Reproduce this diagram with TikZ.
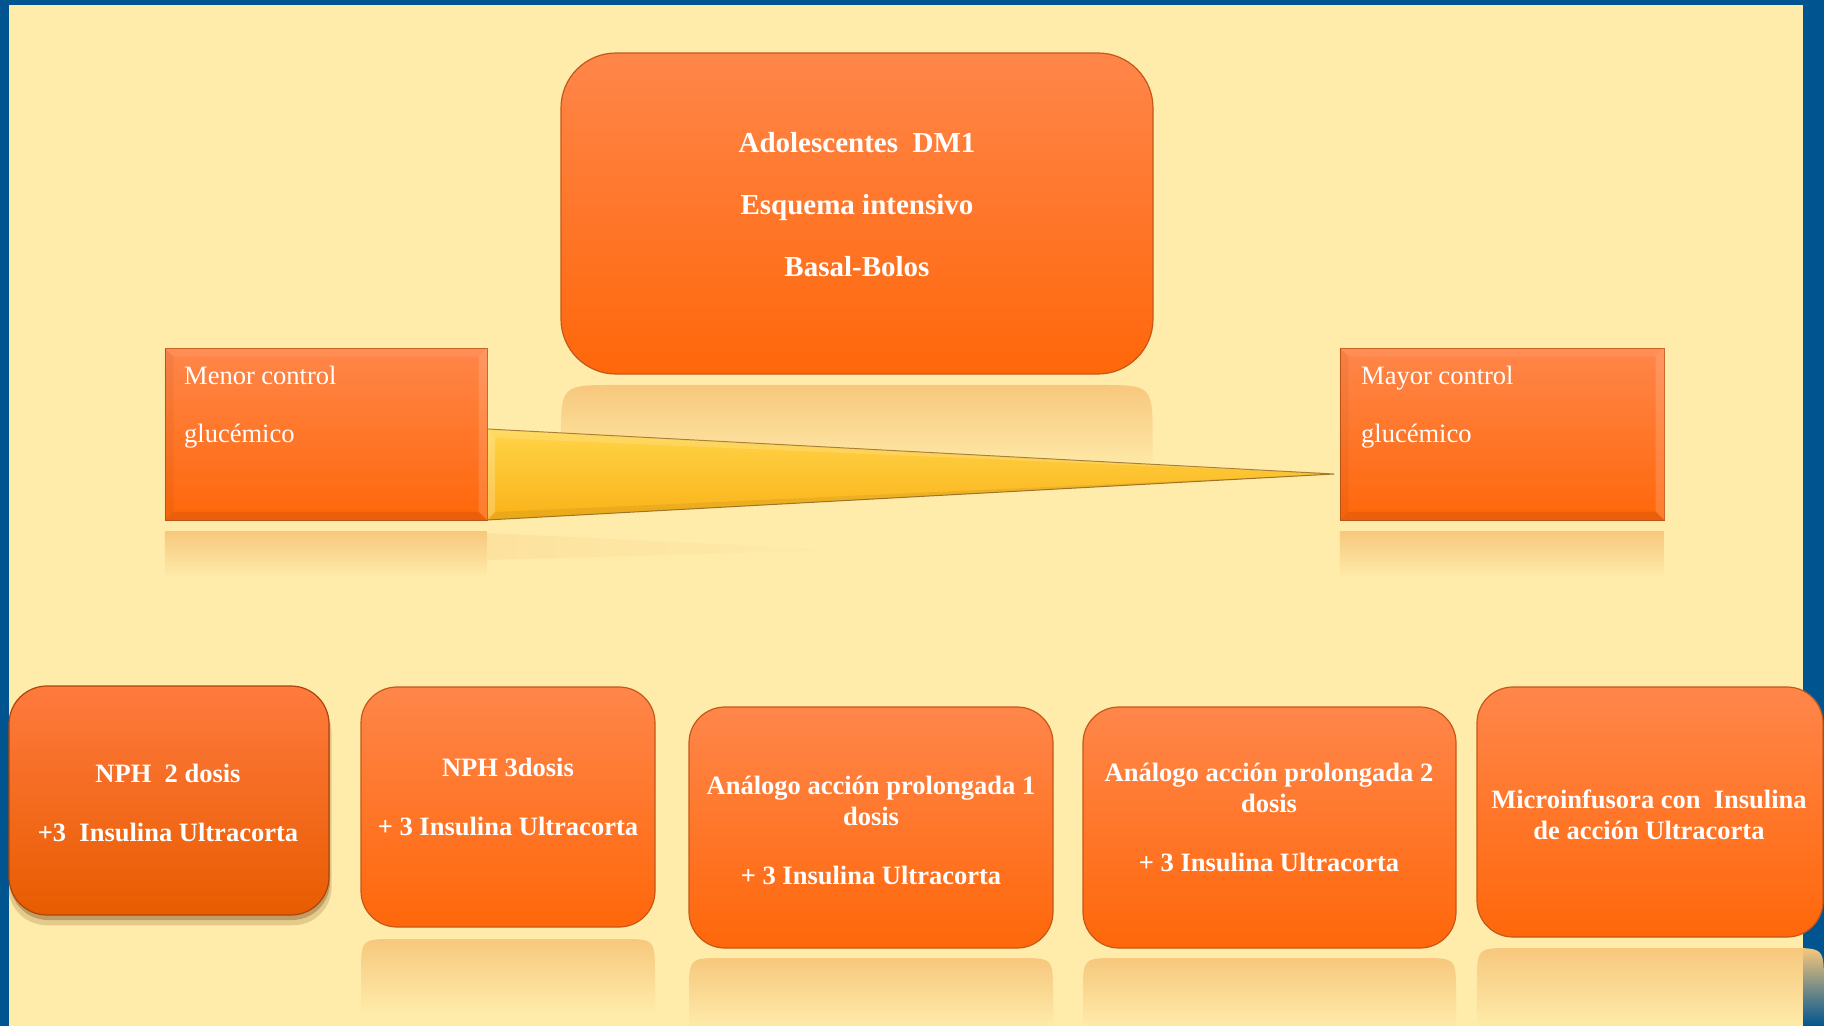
\documentclass[tikz,border=0pt]{standalone}
\usepackage{fontspec}
\setmainfont{Liberation Serif}
\usetikzlibrary{fadings,shadows,calc}
\definecolor{bg}{RGB}{255,235,170}
\definecolor{frame}{RGB}{0,85,145}
\definecolor{otop}{RGB}{255,134,74}
\definecolor{obot}{RGB}{255,103,10}
\definecolor{oedge}{RGB}{196,88,25}
\definecolor{o1top}{RGB}{255,122,62}
\definecolor{o1bot}{RGB}{232,92,0}
\definecolor{o1edge}{RGB}{170,70,10}
\definecolor{shad}{RGB}{110,55,10}
\definecolor{ytop}{RGB}{255,212,72}
\definecolor{ybot}{RGB}{250,178,24}
\definecolor{yedge}{RGB}{165,120,40}
\definecolor{refl}{RGB}{247,200,125}
\newcommand\myrefl[5]{%
  \fill[refl, path fading=south] (#1,{#3+#4}) -- (#1,{#3+#5}) .. controls (#1,#3) .. ({#1+#5},#3) -- ({#2-#5},#3) .. controls (#2,#3) .. (#2,{#3+#5}) -- (#2,{#3+#4}) -- cycle;}
\begin{document}
\begin{tikzpicture}[x=1pt,y=-1pt,
  rbox/.style={draw=oedge, line width=1.2pt, top color=otop, bottom color=obot, rounded corners=#1, inner sep=0pt},
  sbox/.style={draw=oedge, line width=1pt, top color=otop, bottom color=obot, inner sep=0pt, minimum width=322pt, minimum height=172pt},
  ctxt/.style={text=white, align=center, inner sep=0pt, font=\fontsize{26.5pt}{31pt}\selectfont\bfseries},
  ltxt/.style={anchor=north west, text=white, align=left, inner sep=0pt, font=\fontsize{26.5pt}{58pt}\selectfont}]
\useasboundingbox (0,0) rectangle (1824,1026);
% background and frame
\fill[frame] (0,0) rectangle (1824,1026);
\fill[bg] (9,5) rectangle (1803,1026);
% reflections
\myrefl{561}{1153}{385}{85}{55}
\myrefl{165}{487}{531}{45}{0}
\myrefl{1340}{1664}{531}{45}{0}
\myrefl{361}{655}{939}{72}{35}
\myrefl{689}{1053}{958}{68}{35}
\myrefl{1083}{1456}{958}{68}{35}
\myrefl{1477}{1824}{948}{78}{35}
\fill[refl, opacity=0.25, path fading=east] (487,533) -- (840,550) -- (487,560) -- cycle;
% wedge
\coordinate (w1) at (487,429);
\coordinate (w2) at (1334,474);
\coordinate (w3) at (487,520);
\draw[yedge, line width=1pt, top color=ytop, bottom color=ybot] (w1) -- (w2) -- (w3) -- cycle;
\fill[white, opacity=0.22] (w1) -- ($(w1)+(8,9)$) -- ($(w3)+(8,-8)$) -- (w3) -- cycle;
\fill[white, opacity=0.15] (w1) -- (w2) -- ($(w1)+(8,9)$) -- cycle;
\fill[black, opacity=0.06] (w3) -- (w2) -- ($(w3)+(8,-8)$) -- cycle;
% top box
\node[rbox=55pt, minimum width=592pt, minimum height=321pt] (top) at (857,213.5) {};
\node[ctxt, font=\fontsize{29pt}{62pt}\selectfont\bfseries] (topt) at (857,204.5) {Adolescentes\ \ DM1\\Esquema intensivo\\Basal-Bolos};
% side boxes
\node[sbox] (menor) at (326,434) {};
\node[sbox, minimum width=324pt] (mayor) at (1502,434) {};
\foreach \b in {menor,mayor}{
  \fill[white, opacity=0.14] (\b.north east) -- ($(\b.north east)+(-9,9)$) -- ($(\b.south east)+(-9,-9)$) -- (\b.south east) -- cycle;
  \fill[white, opacity=0.07] (\b.north west) -- ($(\b.north west)+(9,9)$) -- ($(\b.north east)+(-9,9)$) -- (\b.north east) -- cycle;
  \fill[black, opacity=0.08] (\b.south west) -- ($(\b.south west)+(9,-9)$) -- ($(\b.south east)+(-9,-9)$) -- (\b.south east) -- cycle;
  \fill[black, opacity=0.04] (\b.north west) -- ($(\b.north west)+(9,9)$) -- ($(\b.south west)+(9,-9)$) -- (\b.south west) -- cycle;
}
\node[ltxt] (menort) at (184,366) {Menor control\\glucémico};
\node[ltxt] (mayort) at (1361,366) {Mayor control\\glucémico};
% bottom boxes
\node[rbox=38pt, top color=o1top, bottom color=o1bot, draw=o1edge,
      drop shadow={shadow xshift=1pt, shadow yshift=-9pt, opacity=0.18, fill=shad, shadow scale=1.01},
      drop shadow={shadow xshift=1pt, shadow yshift=-5pt, opacity=0.3, fill=shad},
      minimum width=320pt, minimum height=229pt] (b1) at (169,800.5) {};
\node[rbox=36pt, minimum width=294pt, minimum height=240pt] (b2) at (508,807) {};
\node[rbox=36pt, minimum width=364pt, minimum height=241pt] (b3) at (871,827.5) {};
\node[rbox=36pt, minimum width=373pt, minimum height=241pt] (b4) at (1269.5,827.5) {};
\node[rbox=36pt, minimum width=346pt, minimum height=250pt] (b5) at (1650,812) {};
\node[ctxt] (b1t) at (168,802.5) {NPH\ \ 2 dosis\\[28pt]+3\ \ Insulina Ultracorta};
\node[ctxt] (b2t) at (508,796.5) {NPH 3dosis\\[28pt]+ 3 Insulina Ultracorta};
\node[ctxt] (b3t) at (871,830) {Análogo acción prolongada 1\\dosis\\[28pt]+ 3 Insulina Ultracorta};
\node[ctxt] (b4t) at (1269,817) {Análogo acción prolongada 2\\dosis\\[28pt]+ 3 Insulina Ultracorta};
\node[ctxt] (b5t) at (1649,814.5) {Microinfusora con\ \ Insulina\\de acción Ultracorta};
\end{tikzpicture}
\end{document}
